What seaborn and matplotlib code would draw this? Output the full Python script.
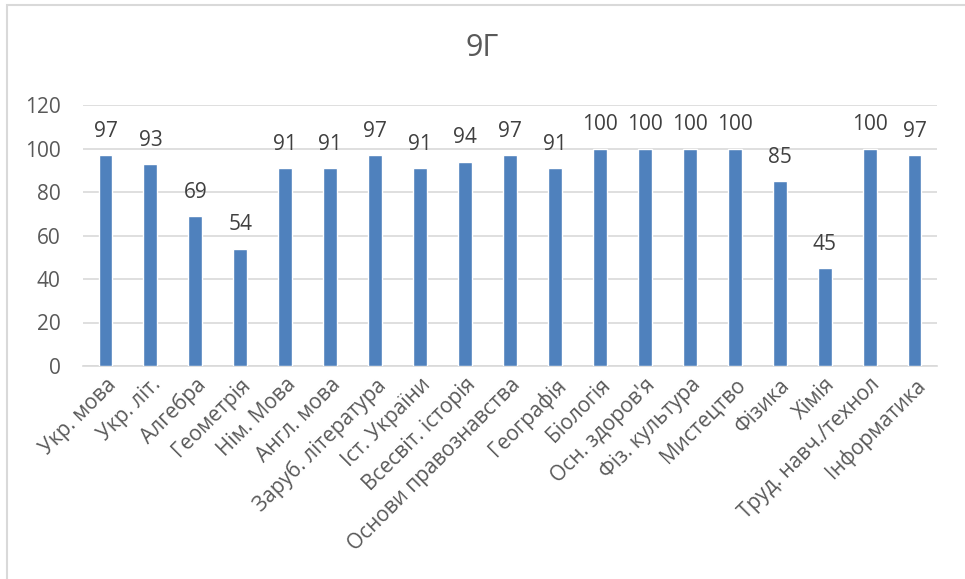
import matplotlib
matplotlib.use("Agg")
import matplotlib.pyplot as plt
import seaborn as sns
import pandas as pd
from matplotlib.patches import Rectangle

# Subjects and percentages for class 9Г
subjects = [
    "Укр. мова", "Укр. літ.", "Алгебра", "Геометрія", "Нім. Мова",
    "Англ. мова", "Заруб. література", "Іст. України", "Всесвіт. історія",
    "Основи правознавства", "Географія", "Біологія", "Осн. здоров'я",
    "Фіз. культура", "Мистецтво", "Фізика", "Хімія",
    "Труд. навч./технол", "Інформатика",
]
values = [97, 93, 69, 54, 91, 91, 97, 91, 94, 97, 91, 100, 100, 100, 100, 85, 45, 100, 97]
y_ticks = [0, 20, 40, 60, 80, 100, 120]
title = "9Г"

BAR_COLOR = "#4F81BD"
TEXT_COLOR = "#595959"
GRID_COLOR = "#D9D9D9"

sns.set_theme(style="white")
plt.rcParams["font.family"] = ["Open Sans", "DejaVu Sans"]

df = pd.DataFrame({"subject": subjects, "value": values})

fig = plt.figure(figsize=(9.65, 5.79), dpi=100)
ax = fig.add_axes([83 / 965, 1 - 366 / 579, 854 / 965, 261 / 579])

sns.barplot(data=df, x="subject", y="value", color=BAR_COLOR,
            width=0.31, saturation=1, ax=ax, zorder=3)

# value labels above the bars
for i, v in enumerate(values):
    ax.text(i, v + 8.3, str(v), ha="center", va="baseline",
            fontsize=15, color="#404040", zorder=4)

ax.set_ylim(0, 120)
ax.set_xlim(-0.5, len(subjects) - 0.5)
ax.set_yticks(y_ticks)
ax.set_yticklabels([str(t) for t in y_ticks], fontsize=15, color=TEXT_COLOR)
ax.yaxis.grid(True, color=GRID_COLOR, linewidth=1.2, zorder=0)
ax.set_axisbelow(True)
ax.tick_params(axis="both", length=0)
ax.tick_params(axis="y", pad=16)
ax.set_xticks(range(len(subjects)))
ax.set_xticklabels(subjects, rotation=45, ha="right", rotation_mode="anchor",
                   fontsize=15, color=TEXT_COLOR)
ax.tick_params(axis="x", pad=6)
ax.set_xlabel("")
ax.set_ylabel("")
for side in ["top", "right", "left"]:
    ax.spines[side].set_visible(False)
ax.spines["bottom"].set_color(GRID_COLOR)
ax.spines["bottom"].set_linewidth(1.2)

fig.text(0.5, 1 - 48 / 579, title, ha="center", va="center",
         fontsize=22, color=TEXT_COLOR)

# light chart-area frame like the spreadsheet export
fig.patches.append(Rectangle((7 / 965, -0.1), 1.0, 1 - 5 / 579 + 0.1,
                             transform=fig.transFigure, fill=False,
                             edgecolor=GRID_COLOR, linewidth=1.5))

fig.savefig("out.png", dpi=100)
